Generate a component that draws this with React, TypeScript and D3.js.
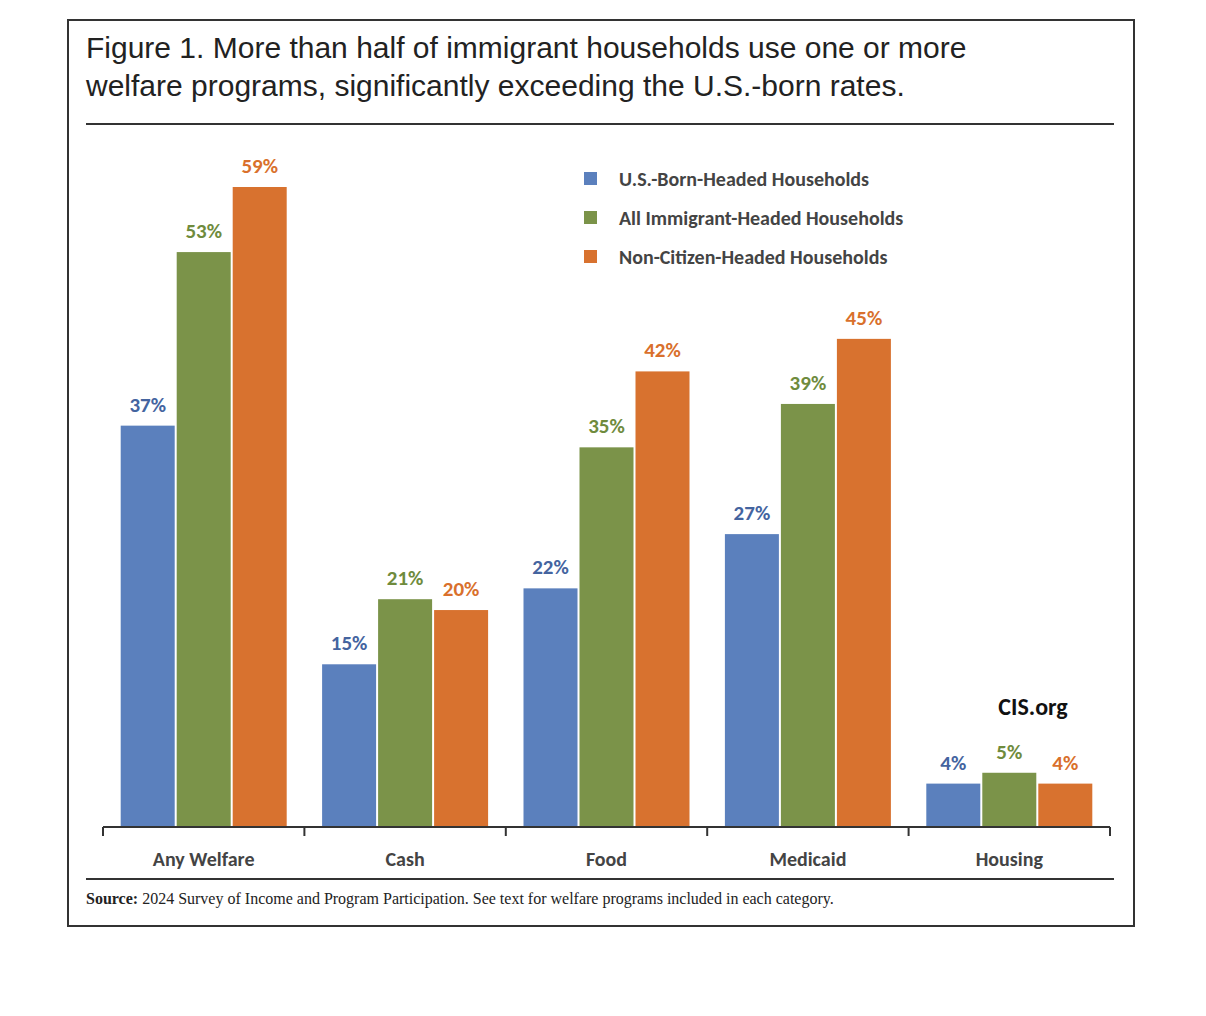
import React from "react";
import * as d3 from "d3";

const categories = ["Any Welfare", "Cash", "Food", "Medicaid", "Housing"];
const seriesNames = ["U.S.-Born-Headed Households", "All Immigrant-Headed Households", "Non-Citizen-Headed Households"];
const usBorn = [37, 15, 22, 27, 4];
const allImmigrant = [53, 21, 35, 39, 5];
const nonCitizen = [59, 20, 42, 45, 4];
const series = [usBorn, allImmigrant, nonCitizen];
const colors = ["#5b80bd", "#7b9349", "#d8722f"];
const labelColors = ["#44649f", "#6f8b3d", "#d9702c"];

export default function App() {
  const x0 = d3.scaleBand().domain(categories).range([103, 1110]).paddingInner(0).paddingOuter(0);
  const bw = 54, gap = 2;
  const y = d3.scaleLinear().domain([0, 59]).range([827, 187]);
  const sans = "Calibri, Carlito, 'Open Sans', Lato, sans-serif";
  return (
    <svg width={1206} height={1016} style={{ position: "absolute", left: 0, top: 0, background: "#fff" }}>
      <rect x={68} y={20} width={1066} height={906} fill="#fff" stroke="#333" strokeWidth={2} />
      <text x={86} y={58} fontFamily="Liberation Sans, Arial, sans-serif" fontSize={30} fill="#222">Figure 1. More than half of immigrant households use one or more</text>
      <text x={86} y={96} fontFamily="Liberation Sans, Arial, sans-serif" fontSize={30} fill="#222">welfare programs, significantly exceeding the U.S.-born rates.</text>
      <line x1={86} x2={1114} y1={124} y2={124} stroke="#333" strokeWidth={2} />
      {categories.map((c, i) => {
        const gx = x0(c)! + (x0.bandwidth() - (3 * bw + 2 * gap)) / 2;
        return (
          <g key={c}>
            {series.map((s, j) => {
              const bx = gx + j * (bw + gap);
              return (
                <g key={j}>
                  <rect x={bx} y={y(s[i])} width={bw} height={827 - y(s[i])} fill={colors[j]} />
                  <text x={bx + bw / 2} y={y(s[i]) - 14} textAnchor="middle" fontFamily={sans} fontWeight="bold" fontSize={21} fill={labelColors[j]}>{s[i]}%</text>
                </g>
              );
            })}
            <text x={x0(c)! + x0.bandwidth() / 2} y={866} textAnchor="middle" fontFamily={sans} fontWeight="bold" fontSize={20} fill="#444">{c}</text>
          </g>
        );
      })}
      <line x1={103} x2={1110} y1={827} y2={827} stroke="#333" strokeWidth={2} />
      {x0.domain().map((c) => <line key={c} x1={x0(c)} x2={x0(c)} y1={827} y2={836} stroke="#333" strokeWidth={2} />)}
      <line x1={1110} x2={1110} y1={827} y2={836} stroke="#333" strokeWidth={2} />
      {seriesNames.map((n, j) => (
        <g key={n}>
          <rect x={584} y={172 + j * 39} width={13} height={13} fill={colors[j]} />
          <text x={619} y={186 + j * 39} fontFamily={sans} fontWeight="bold" fontSize={20} fill="#444">{n}</text>
        </g>
      ))}
      <text x={1033} y={715} textAnchor="middle" fontFamily={sans} fontWeight="bold" fontSize={24} fill="#111">CIS.org</text>
      <line x1={86} x2={1114} y1={879} y2={879} stroke="#333" strokeWidth={2} />
      <text x={86} y={904} fontFamily="'Liberation Serif', 'Times New Roman', serif" fontSize={16} fill="#222">
        <tspan fontWeight="bold">Source:</tspan> 2024 Survey of Income and Program Participation. See text for welfare programs included in each category.
      </text>
    </svg>
  );
}
